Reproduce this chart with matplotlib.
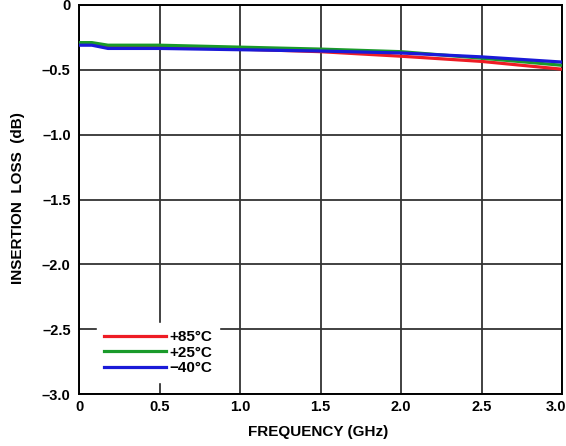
import matplotlib
matplotlib.use("Agg")
import matplotlib.pyplot as plt
import matplotlib.transforms as mtransforms

freq = [0.0, 0.08, 0.18, 0.5, 1.0, 1.5, 2.0, 2.5, 3.0]
loss_85 = [-0.30, -0.30, -0.325, -0.325, -0.34, -0.36, -0.395, -0.435, -0.495]
loss_25 = [-0.29, -0.29, -0.31, -0.31, -0.325, -0.34, -0.36, -0.41, -0.465]
loss_m40 = [-0.31, -0.31, -0.335, -0.335, -0.345, -0.355, -0.37, -0.40, -0.44]
labels = ["+85°C", "+25°C", "\u221240°C"]
xticks = [0, 0.5, 1.0, 1.5, 2.0, 2.5, 3.0]
xticklabels = ["0", "0.5", "1.0", "1.5", "2.0", "2.5", "3.0"]
yticks = [0, -0.5, -1.0, -1.5, -2.0, -2.5, -3.0]
yticklabels = ["0", "\u20130.5", "\u20131.0", "\u20131.5", "\u20132.0", "\u20132.5", "\u20133.0"]

plt.rcParams['font.family'] = ['Liberation Sans', 'DejaVu Sans']
fig = plt.figure(figsize=(5.66, 4.46), dpi=100)
ax = fig.add_axes([79/566, 1-394/446, 483/566, 389/446])

ax.plot(freq, loss_85, color='#ee1c24', lw=2.3, label=labels[0], zorder=3)
ax.plot(freq, loss_25, color='#1a9a2a', lw=2.3, label=labels[1], zorder=3)
ax.plot(freq, loss_m40, color='#1a1ad8', lw=2.3, label=labels[2], zorder=4)

ax.set_xlim(0, 3.0)
ax.set_ylim(-3.0, 0)
ax.set_xticks(xticks)
ax.set_xticklabels(xticklabels, fontsize=10.5, fontweight='bold')
ax.set_yticks(yticks)
ax.set_yticklabels(yticklabels, fontsize=10.5, fontweight='bold')
ax.tick_params(axis='x', length=0, pad=4)
ax.tick_params(axis='y', length=0, pad=6)
last = ax.get_xticklabels()[-1]
last.set_horizontalalignment('right')
last.set_transform(last.get_transform() + mtransforms.ScaledTranslation(4/100, 0, fig.dpi_scale_trans))
ax.grid(True, color='#333333', lw=1.3)
ax.set_axisbelow(True)
for s in ax.spines.values():
    s.set_linewidth(1.4)
    s.set_color('black')

ax.set_xlabel("FREQUENCY (GHz)", fontsize=11, fontweight='bold')
ax.set_ylabel("INSERTION  LOSS  (dB)", fontsize=11, fontweight='bold')
ax.xaxis.set_label_coords(0.5 + (318 - 320.5) / 483, (394 - 432) / 389)
ax.xaxis.label.set_va('center')
ax.yaxis.set_label_coords((18 - 79) / 483, (394 - 198) / 389)
ax.yaxis.label.set_va('center')

leg = ax.legend(loc='lower left', bbox_to_anchor=(0.037, 0.031), borderaxespad=0,
                frameon=True, fancybox=False, framealpha=1, facecolor='white',
                edgecolor='white', handlelength=4.05, handletextpad=0.26,
                labelspacing=0.1, borderpad=0.45,
                prop={'weight': 'bold', 'size': 11})
leg.set_zorder(5)

fig.savefig("out.png", dpi=100)
